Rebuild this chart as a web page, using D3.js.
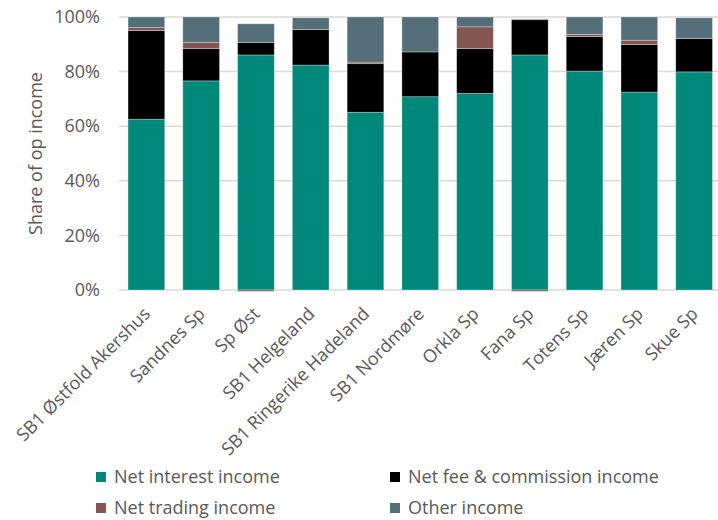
<!DOCTYPE html>
<html>
<head>
<meta charset="utf-8">
<script src="https://cdn.jsdelivr.net/npm/d3@7"></script>
<style>
  body { margin: 0; background: #fff; }
  text { font-family: "Open Sans", sans-serif; fill: #595959; }
</style>
</head>
<body>
<div id="chart"></div>
<script>
// banks along the x axis
let banks = ["SB1 Østfold Akershus", "Sandnes Sp", "Sp Øst", "SB1 Helgeland", "SB1 Ringerike Hadeland",
    "SB1 Nordmøre", "Orkla Sp", "Fana Sp", "Totens Sp", "Jæren Sp", "Skue Sp"];

// shares of operating income, in %
let netInterest = [62.6, 76.6, 86.1, 82.4, 65.1, 70.8, 72.0, 86.1, 80.2, 72.5, 79.9];
let netFee      = [32.4, 11.8, 4.6, 13.0, 17.8, 16.4, 16.4, 12.9, 12.6, 17.4, 12.2];
let netTrading  = [1.1, 2.3, -0.5, 0.0, 0.6, 0.0, 8.0, -0.5, 0.8, 1.6, 0.0];
let otherIncome = [3.9, 9.3, 6.8, 4.3, 16.5, 12.8, 3.6, 0.3, 6.4, 8.5, 7.6];

let seriesNames = ["Net interest income", "Net fee & commission income", "Net trading income", "Other income"];
let seriesColors = ["#00897b", "#000000", "#85554f", "#546e7a"];
let yTicks = [0, 20, 40, 60, 80, 100];

let width = 718, height = 520;
let plotLeft = 119, plotRight = 721.5, plotTop = 17, plotBottom = 290;

let svg = d3.select("#chart")
    .append("svg")
    .attr("width", width)
    .attr("height", height);

let rows = banks.map(function(b, i) {
    return { bank: b, s0: netInterest[i], s1: netFee[i], s2: netTrading[i], s3: otherIncome[i] };
});
let keys = ["s0", "s1", "s2", "s3"];

let stacked = d3.stack().keys(keys).offset(d3.stackOffsetDiverging)(rows);

let x = d3.scaleBand()
    .domain(banks)
    .range([plotLeft, plotRight])
    .paddingInner(0.33)
    .paddingOuter(0.165);

let y = d3.scaleLinear()
    .domain([0, 100])
    .range([plotBottom, plotTop]);

// gridlines
svg.append("g")
    .selectAll("line")
    .data(yTicks)
    .enter()
    .append("line")
    .attr("x1", plotLeft)
    .attr("x2", width)
    .attr("y1", function(d) { return y(d); })
    .attr("y2", function(d) { return y(d); })
    .attr("stroke", "#d9d9d9")
    .attr("stroke-width", 1.5);

// y axis labels
let yAxis = svg.append("g")
    .attr("transform", `translate(${plotLeft},0)`)
    .call(d3.axisLeft(y).tickValues(yTicks).tickSize(0).tickPadding(19)
        .tickFormat(function(d) { return d + "%"; }));
yAxis.select(".domain").remove();
yAxis.selectAll("text").style("font-size", "18px").attr("fill", "#595959");

// bars
svg.append("g")
    .selectAll("g")
    .data(stacked)
    .enter()
    .append("g")
    .attr("fill", function(d, i) { return seriesColors[i]; })
    .selectAll("rect")
    .data(function(d) { return d; })
    .enter()
    .append("rect")
    .attr("x", function(d) { return x(d.data.bank); })
    .attr("y", function(d) { return y(Math.max(d[0], d[1])); })
    .attr("width", x.bandwidth())
    .attr("height", function(d) { return Math.abs(y(d[0]) - y(d[1])); })
    .attr("stroke", "#ffffff")
    .attr("stroke-opacity", 0.4)
    .attr("stroke-width", 0.75);

// x axis labels, rotated
let xAxis = svg.append("g")
    .attr("transform", `translate(0,${plotBottom})`)
    .call(d3.axisBottom(x).tickSize(0).tickPadding(0));
xAxis.select(".domain").remove();
xAxis.selectAll("text")
    .style("font-size", "18px")
    .attr("fill", "#595959")
    .attr("text-anchor", "end")
    .attr("dy", null)
    .attr("transform", "translate(5,25) rotate(-45)");

// y axis title
svg.append("text")
    .attr("transform", `translate(42, ${(plotTop + plotBottom) / 2}) rotate(-90)`)
    .style("text-anchor", "middle")
    .style("font-size", "18px")
    .text("Share of op income");

// legend
let legendPos = [[96, 477], [390, 477], [96, 508], [390, 508]];
let legend = svg.append("g")
    .selectAll("g")
    .data(seriesNames)
    .enter()
    .append("g")
    .attr("transform", function(d, i) { return `translate(${legendPos[i][0]},${legendPos[i][1]})`; });

legend.append("rect")
    .attr("x", 0)
    .attr("y", -5)
    .attr("width", 10)
    .attr("height", 10)
    .attr("fill", function(d, i) { return seriesColors[i]; });

legend.append("text")
    .attr("x", 18)
    .attr("y", 0)
    .attr("dy", "0.35em")
    .style("font-size", "18px")
    .text(function(d) { return d; });
</script>
</body>
</html>
